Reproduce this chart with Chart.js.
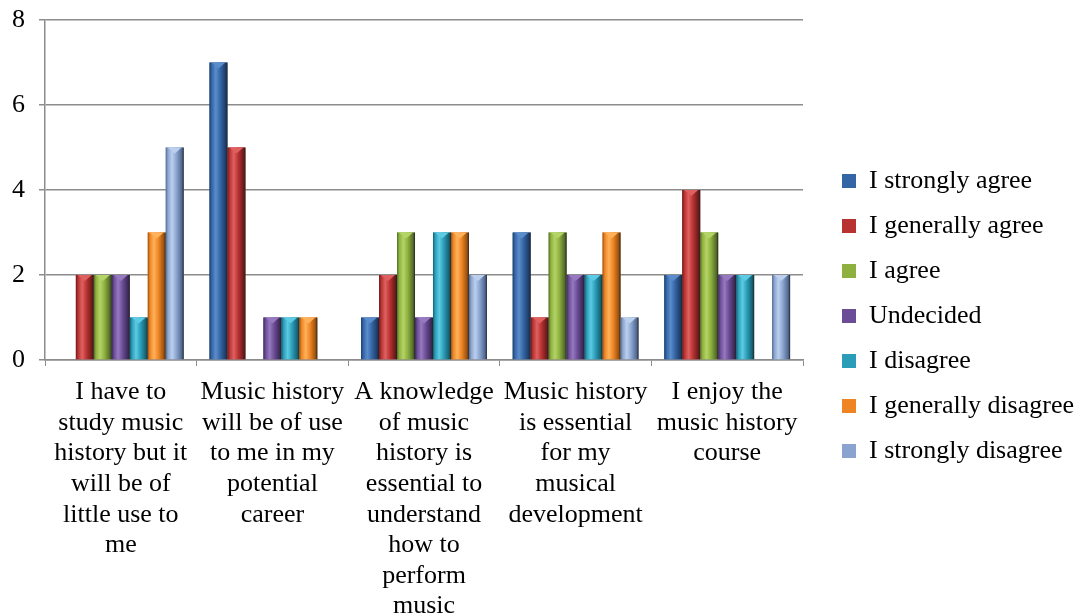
<!DOCTYPE html>
<html>
<head>
<meta charset="utf-8">
<script src="https://cdn.jsdelivr.net/npm/chart.js@4.4.1/dist/chart.umd.min.js"></script>
<style>
    html, body { margin: 0; padding: 0; background: #fff; overflow: hidden; }
    #wrap { width: 1080px; height: 616px; }
</style>
</head>
<body>
<div id="wrap"><canvas id="surveyChart"></canvas></div>
<script>
const categories = [
    ['I have to', 'study music', 'history but it', 'will be of', 'little use to', 'me'],
    ['Music history', 'will be of use', 'to me in my', 'potential', 'career'],
    ['A knowledge', 'of music', 'history is', 'essential to', 'understand', 'how to', 'perform', 'music'],
    ['Music history', 'is essential', 'for my', 'musical', 'development'],
    ['I enjoy the', 'music history', 'course']
];

const seriesNames = ['I strongly agree', 'I generally agree', 'I agree', 'Undecided',
    'I disagree', 'I generally disagree', 'I strongly disagree'];

const stronglyAgree = [0, 7, 1, 3, 2];
const generallyAgree = [2, 5, 2, 1, 4];
const agree = [2, 0, 3, 3, 3];
const undecided = [2, 1, 1, 2, 2];
const disagree = [1, 1, 3, 2, 2];
const generallyDisagree = [3, 1, 3, 3, 0];
const stronglyDisagree = [5, 0, 2, 1, 2];

const yTicks = [0, 2, 4, 6, 8];

// base colour, dark edge, light highlight
const palette = [
    ['#3466a5', '#1d3c66', '#5b8ccc'],
    ['#b83232', '#6a1a1a', '#e06060'],
    ['#8db03e', '#52692a', '#b4d466'],
    ['#6b4c96', '#3c2a58', '#9679c0'],
    ['#2b9db8', '#155f70', '#5ccbe3'],
    ['#ee8424', '#98500f', '#ffb25a'],
    ['#8aa4cf', '#506890', '#bcd0ee']
];

const values = [stronglyAgree, generallyAgree, agree, undecided, disagree, generallyDisagree, stronglyDisagree];

const serif = "'Liberation Serif', 'Times New Roman', serif";

// paints the bevelled look over each bar the library laid out
const bevelBars = {
    id: 'bevelBars',
    afterDatasetsDraw(chart) {
        const ctx = chart.ctx;
        chart.data.datasets.forEach((ds, i) => {
            const meta = chart.getDatasetMeta(i);
            const [base, dark, light] = palette[i];
            meta.data.forEach((bar) => {
                const h = bar.base - bar.y;
                if (h <= 0) return;
                const left = bar.x - bar.width / 2;
                const right = bar.x + bar.width / 2;
                const g = ctx.createLinearGradient(left, 0, right, 0);
                g.addColorStop(0, dark);
                g.addColorStop(0.12, base);
                g.addColorStop(0.35, light);
                g.addColorStop(0.6, base);
                g.addColorStop(0.9, dark);
                g.addColorStop(1, '#222');
                ctx.save();
                ctx.fillStyle = g;
                ctx.fillRect(left, bar.y, bar.width, h);
                ctx.beginPath();
                ctx.moveTo(left + 2, bar.y);
                ctx.lineTo(right - 2, bar.y);
                ctx.lineTo(bar.x, bar.y + 6);
                ctx.closePath();
                ctx.fillStyle = light;
                ctx.fill();
                ctx.restore();
            });
        });
    }
};

// legend takes a fixed strip on the right, items nudged to where the original puts them
const legendPlace = {
    id: 'legendPlace',
    afterInit(chart) {
        const lg = chart.legend;
        const fit = lg.fit;
        lg.fit = function () {
            fit.call(this);
            this.width = 277;
        };
    },
    afterLayout(chart) {
        const lg = chart.legend;
        lg.left += 20;
        lg.right += 20;
        lg.top += 8;
        lg.bottom += 8;
    }
};

const ctx = document.getElementById('surveyChart').getContext('2d');
const chart = new Chart(ctx, {
    type: 'bar',
    data: {
        labels: categories,
        datasets: seriesNames.map((name, i) => ({
            label: name,
            data: values[i],
            backgroundColor: palette[i][0],
            borderColor: palette[i][1],
            borderWidth: 0,
            categoryPercentage: 0.83,
            barPercentage: 1.0
        }))
    },
    options: {
        responsive: true,
        maintainAspectRatio: false,
        animation: false,
        layout: {
            padding: 0
        },
        scales: {
            x: {
                afterFit(scale) {
                    scale.height = 256;
                    scale.paddingLeft = 0;
                    scale.paddingRight = 0;
                },
                grid: {
                    offset: true,
                    drawOnChartArea: false,
                    tickLength: 6,
                    color: '#8c8c8c'
                },
                border: { color: '#8c8c8c', width: 1.5 },
                ticks: {
                    maxRotation: 0,
                    autoSkip: false,
                    padding: 11,
                    color: '#000',
                    font: { family: serif, size: 26, lineHeight: 1.177 }
                }
            },
            y: {
                min: 0,
                max: 8,
                afterFit(scale) {
                    scale.width = 45;
                    scale.paddingTop = 20;
                    scale.paddingBottom = 0;
                },
                afterBuildTicks(axis) {
                    axis.ticks = yTicks.map(v => ({ value: v }));
                },
                grid: {
                    color: '#8c8c8c',
                    lineWidth: 1.5,
                    tickLength: 6
                },
                border: { color: '#8c8c8c', width: 1.5 },
                ticks: {
                    padding: 14,
                    color: '#000',
                    font: { family: serif, size: 26 }
                }
            }
        },
        plugins: {
            legend: {
                position: 'right',
                labels: {
                    boxWidth: 14,
                    boxHeight: 14,
                    padding: 19,
                    color: '#000',
                    font: { family: serif, size: 26 }
                }
            },
            tooltip: { enabled: false }
        }
    },
    plugins: [bevelBars, legendPlace]
});
</script>
</body>
</html>
